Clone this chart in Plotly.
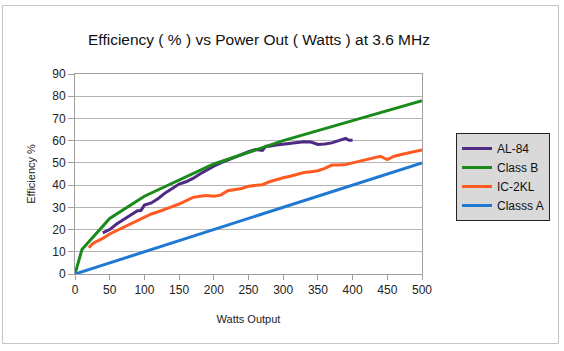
import plotly.graph_objects as go

# ---- data ----
al84_x = [40, 50, 60, 70, 80, 90, 95, 100, 110, 120, 130, 140, 150, 160, 170, 180, 190, 200,
          210, 220, 230, 240, 250, 260, 270, 275, 280, 290, 300, 310, 320, 330, 340, 350, 360,
          370, 380, 390, 395, 400]
al84_y = [18.5, 20, 22.5, 24.5, 26.5, 28.5, 28.6, 31, 32, 34, 36.5, 38.5, 40.5, 41.5, 43, 45, 46.8, 48.5,
          50, 51.3, 52.5, 54, 55, 56, 55.6, 57.5, 57.5, 58, 58.3, 58.6, 59, 59.5, 59.4, 58.3, 58.5,
          59, 60, 61, 60.2, 60.2]

classb_x = [0, 10, 50, 100, 200, 300, 400, 500]
classb_y = [0, 11, 25, 35, 49.5, 60, 69, 78]

ic2kl_x = [20, 25, 30, 40, 50, 60, 70, 80, 90, 100, 110, 120, 130, 140, 150, 160, 170, 180, 190,
           200, 210, 220, 230, 240, 250, 260, 270, 280, 290, 300, 310, 320, 330, 340, 350, 360,
           370, 380, 390, 400, 410, 420, 430, 440, 450, 460, 470, 480, 490, 500]
ic2kl_y = [11.8, 13.5, 14.5, 16, 18, 19.5, 21, 22.5, 24, 25.5, 27, 28, 29, 30.3, 31.5, 33, 34.5, 35, 35.3,
           35, 35.5, 37.5, 38, 38.5, 39.5, 40, 40.2, 41.5, 42.5, 43.3, 44, 45, 45.7, 46, 46.5, 47.5,
           49, 49, 49.3, 50, 50.7, 51.5, 52.3, 53, 51.5, 53, 53.8, 54.5, 55.2, 55.8]

classa_x = [0, 500]
classa_y = [0, 50]

x_ticks = [0, 50, 100, 150, 200, 250, 300, 350, 400, 450, 500]
y_ticks = [0, 10, 20, 30, 40, 50, 60, 70, 80, 90]

FONT = "Liberation Sans, Arial, sans-serif"

fig = go.Figure()
fig.add_trace(go.Scatter(x=al84_x, y=al84_y, mode="lines", name="AL-84",
                         line=dict(color="#4e2a84", width=3)))
fig.add_trace(go.Scatter(x=classb_x, y=classb_y, mode="lines", name="Class B",
                         line=dict(color="#1a8a1a", width=3)))
fig.add_trace(go.Scatter(x=ic2kl_x, y=ic2kl_y, mode="lines", name="IC-2KL",
                         line=dict(color="#ff5a22", width=3)))
fig.add_trace(go.Scatter(x=classa_x, y=classa_y, mode="lines", name="Classs A",
                         line=dict(color="#1f78d1", width=3)))

# plot area pixels: x 75..422, y 74..274
L, R, T, B = 75, 422, 74, 274
W, H = 564, 351
pw, ph = R - L, B - T

def px2paper_x(px):
    return (px - L) / pw

def px2paper_y(py):
    return (B - py) / ph

fig.add_shape(type="rect", xref="paper", yref="paper",
              x0=px2paper_x(2.5), x1=px2paper_x(558.5), y0=px2paper_y(343.5), y1=px2paper_y(5.5),
              line=dict(color="#c4c4c4", width=1), layer="below")

fig.update_layout(
    width=W, height=H,
    margin=dict(l=L, r=W - R, t=T, b=H - B),
    paper_bgcolor="white", plot_bgcolor="white",
    font=dict(family=FONT, size=12, color="#222222"),
    title=dict(text="Efficiency ( % ) vs Power Out ( Watts ) at 3.6 MHz",
               font=dict(family=FONT, size=15.5, color="#111111"),
               x=259 / W, xref="container", xanchor="center",
               y=1 - 40 / H, yref="container", yanchor="middle"),
    showlegend=True,
    legend=dict(xref="container", yref="container", x=456 / W, y=1 - 133 / H,
                xanchor="left", yanchor="top",
                bgcolor="#d9d9d9", bordercolor="#222222", borderwidth=1,
                font=dict(family=FONT, size=12, color="#111111"),
                tracegroupgap=0, itemwidth=30),
)

fig.update_xaxes(range=[0, 500], tickvals=x_ticks, showgrid=False, zeroline=False,
                 showline=True, linecolor="#a0a0a0", linewidth=1, mirror=True,
                 ticks="outside", ticklen=5, tickcolor="#a0a0a0",
                 tickfont=dict(family=FONT, size=12, color="#222222"),
                 title=dict(text="Watts Output", font=dict(family=FONT, size=11, color="#222222"),
                            standoff=18))
fig.update_yaxes(range=[0, 90], tickvals=y_ticks, showgrid=True, gridcolor="#b3b3b3", gridwidth=1,
                 zeroline=False, showline=True, linecolor="#a0a0a0", linewidth=1, mirror=True,
                 ticks="outside", ticklen=6, tickcolor="#a0a0a0",
                 tickfont=dict(family=FONT, size=12, color="#222222"),
                 title=dict(text="Efficiency %", font=dict(family=FONT, size=11, color="#222222"),
                            standoff=14))

fig.write_html("out.html")
